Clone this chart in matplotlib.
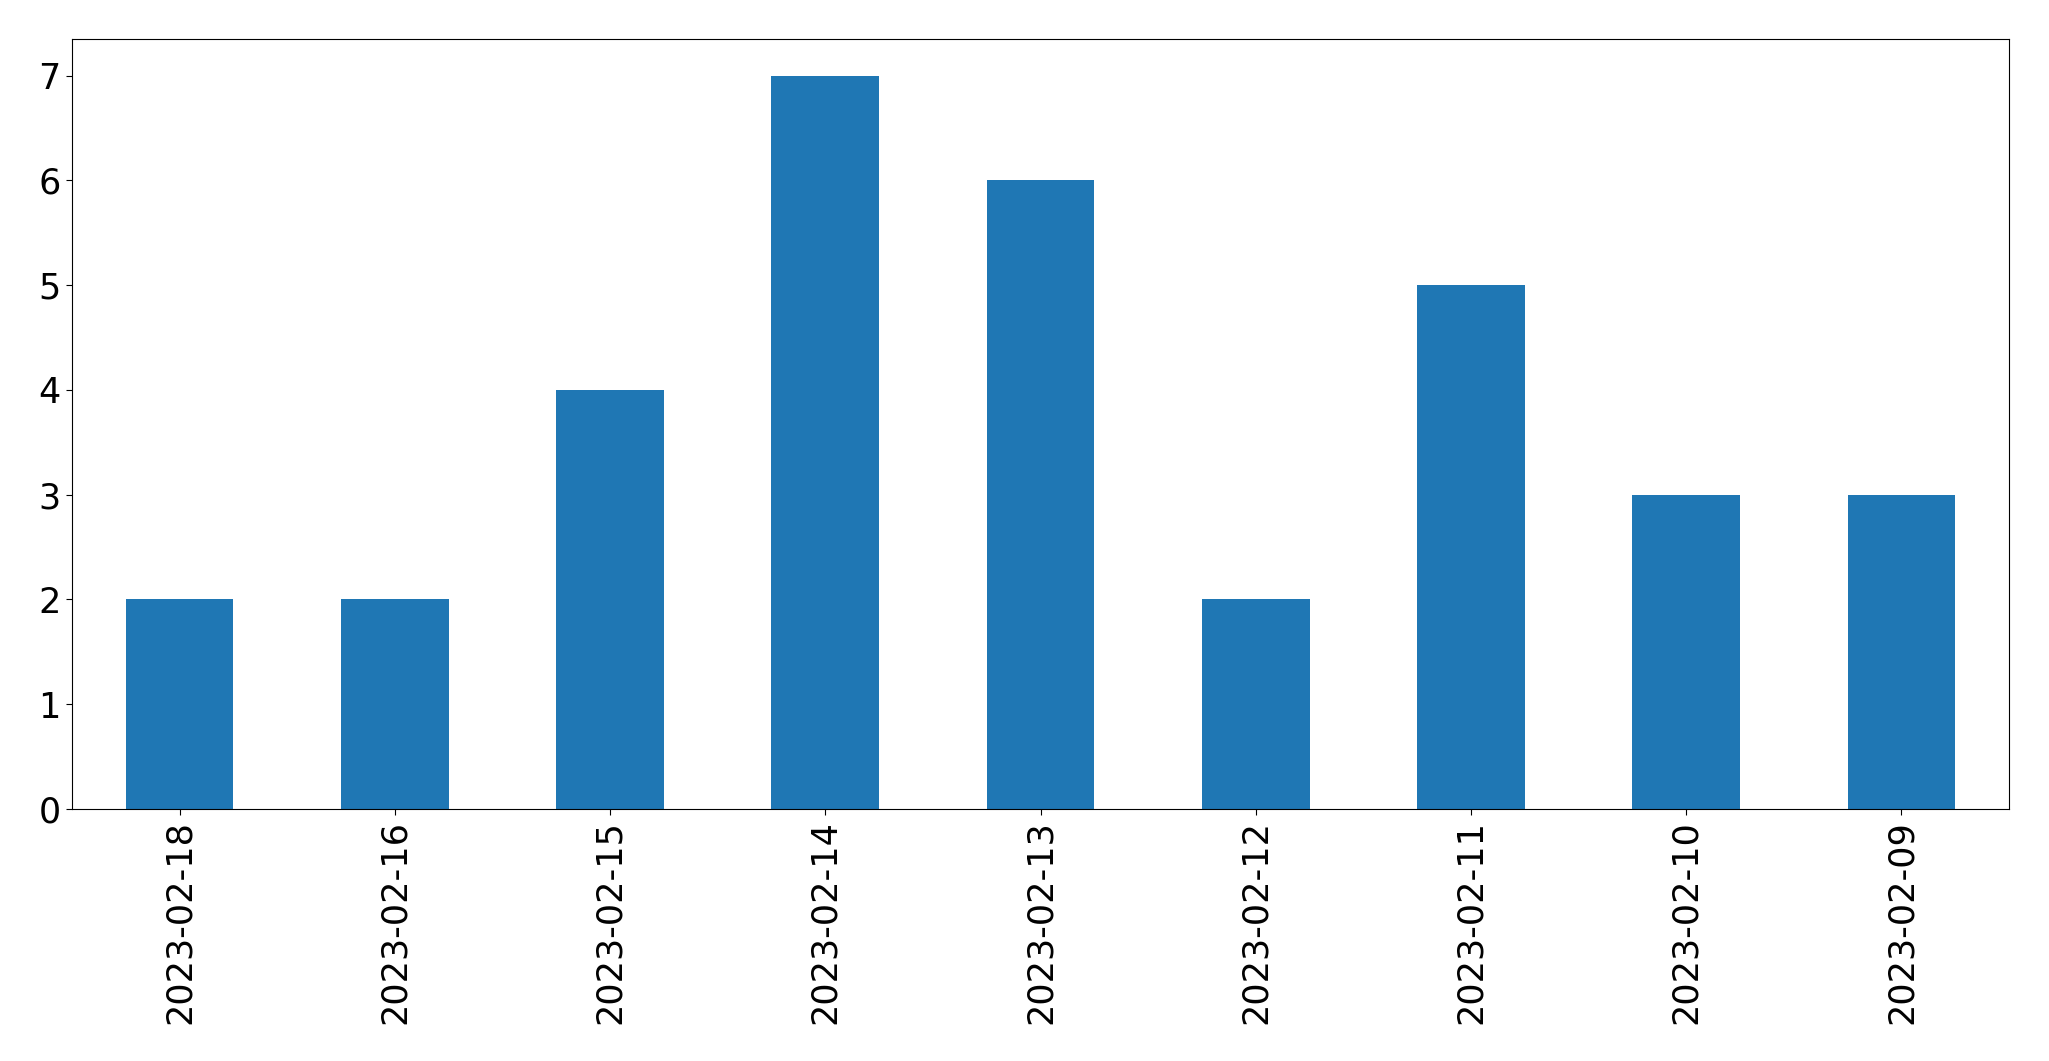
import matplotlib
matplotlib.use("Agg")
import matplotlib.pyplot as plt
import pandas as pd

# dates as they appear on the x axis (newest first)
dates = ['2023-02-18', '2023-02-16', '2023-02-15', '2023-02-14', '2023-02-13',
         '2023-02-12', '2023-02-11', '2023-02-10', '2023-02-09']
counts = [2, 2, 4, 7, 6, 2, 5, 3, 3]

s = pd.Series(counts, index=dates)

fig = plt.figure(figsize=(20.49, 10.61), dpi=100)
ax = fig.add_axes([72 / 2049, 1 - 809 / 1061, (2009 - 72) / 2049, (809 - 39) / 1061])
s.plot(kind='bar', ax=ax, color='#1f77b4')
ax.tick_params(axis='both', labelsize=25.2, length=4.6)
ax.set_ylim(0, 7.35)
ax.set_yticks(range(0, 8))

fig.savefig('out.png', dpi=100)
